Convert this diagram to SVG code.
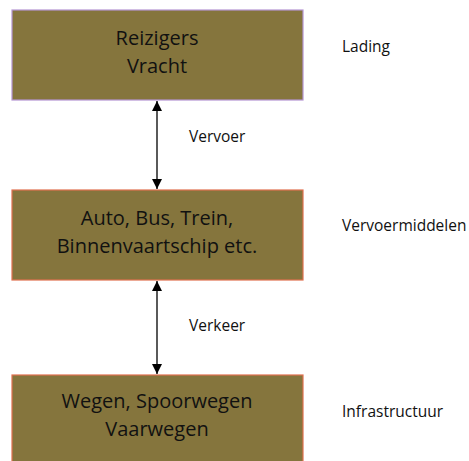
<svg xmlns="http://www.w3.org/2000/svg" width="469" height="461" viewBox="0 0 469 461">
<style>
.box{fill:#85753d;stroke-width:1.2}
.t{font-family:"Open Sans","Noto Sans",sans-serif;font-size:20px;fill:#111;text-anchor:middle}
.l{font-family:"Open Sans","Noto Sans",sans-serif;font-size:15.5px;fill:#111}
.c{stroke:#000;stroke-width:1.3;fill:none}
</style>
<defs>
<marker id="ah" viewBox="0 0 10 10" refX="10" refY="5" markerWidth="10" markerHeight="13" markerUnits="userSpaceOnUse" orient="auto-start-reverse">
<path d="M0,0 L10,5 L0,10 z" fill="#000"/>
</marker>
</defs>
<g id="connectors">
<line class="c" x1="157" y1="101" x2="157" y2="189" marker-start="url(#ah)" marker-end="url(#ah)"/>
<line class="c" x1="157" y1="281" x2="157" y2="374" marker-start="url(#ah)" marker-end="url(#ah)"/>
</g>
<g id="lading">
<rect class="box" x="12" y="10" width="291" height="90" stroke="#b595d2"/>
<text class="t" x="157" y="45">Reizigers</text>
<text class="t" x="157" y="73">Vracht</text>
</g>
<g id="vervoermiddelen">
<rect class="box" x="12" y="190" width="291" height="90" stroke="#e0704f"/>
<text class="t" x="157" y="225">Auto, Bus, Trein,</text>
<text class="t" x="157" y="253">Binnenvaartschip etc.</text>
</g>
<g id="infrastructuur">
<rect class="box" x="12" y="375" width="291" height="100" stroke="#e0704f"/>
<text class="t" x="157" y="408">Wegen, Spoorwegen</text>
<text class="t" x="157" y="436">Vaarwegen</text>
</g>
<g id="labels">
<text class="l" x="189" y="142">Vervoer</text>
<text class="l" x="189" y="331">Verkeer</text>
<text class="l" x="342" y="52">Lading</text>
<text class="l" x="342" y="231">Vervoermiddelen</text>
<text class="l" x="342" y="417">Infrastructuur</text>
</g>
</svg>
